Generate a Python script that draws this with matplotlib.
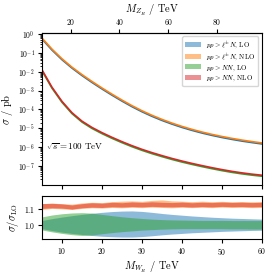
import numpy as np
import matplotlib
matplotlib.use('Agg')
import matplotlib.pyplot as plt
from matplotlib.patches import Patch

plt.rcParams['font.family'] = 'cmr10'
plt.rcParams['mathtext.fontset'] = 'cm'
plt.rcParams['axes.unicode_minus'] = False
plt.rcParams['axes.formatter.use_mathtext'] = True

# W_R mass grid (TeV)
m_wr = [5, 7.5, 10, 12.5, 15, 17.5, 20, 22.5, 25, 27.5, 30, 32.5, 35, 37.5, 40,
        42.5, 45, 47.5, 50, 52.5, 55, 57.5, 60]

# LO cross sections (pb)
lN_lo = [0.550, 0.142, 0.0437, 0.0157, 6.31e-3, 2.72e-3, 1.23e-3, 5.75e-4, 2.79e-4,
         1.41e-4, 7.59e-5, 4.34e-5, 2.63e-5, 1.68e-5, 1.12e-5, 7.81e-6, 5.65e-6,
         4.24e-6, 3.27e-6, 2.60e-6, 2.11e-6, 1.76e-6, 1.49e-6]
NN_lo = [1.148e-2, 1.365e-3, 2.43e-4, 6.10e-5, 2.16e-5, 9.94e-6, 5.28e-6, 2.97e-6,
         1.75e-6, 1.07e-6, 6.84e-7, 4.57e-7, 3.18e-7, 2.25e-7, 1.64e-7, 1.23e-7,
         9.39e-8, 7.29e-8, 5.75e-8, 4.65e-8, 3.87e-8, 3.31e-8, 2.90e-8]

# ratio bands (sigma / sigma_LO)
lN_lo_hi = [1.027, 1.039, 1.049, 1.058, 1.066, 1.073, 1.079, 1.084, 1.087, 1.088, 1.085, 1.079,
            1.072, 1.066, 1.061, 1.056, 1.052, 1.048, 1.045, 1.042, 1.040, 1.038, 1.036]
lN_lo_lo = [0.975, 0.963, 0.953, 0.945, 0.938, 0.932, 0.927, 0.924, 0.922, 0.922, 0.925, 0.930,
            0.936, 0.941, 0.945, 0.949, 0.952, 0.955, 0.958, 0.960, 0.962, 0.964, 0.965]
lN_nlo_hi = [1.133, 1.138, 1.134, 1.131, 1.139, 1.143, 1.141, 1.147, 1.150, 1.152, 1.149, 1.155,
             1.158, 1.152, 1.150, 1.147, 1.150, 1.147, 1.149, 1.146, 1.148, 1.146, 1.147]
lN_nlo_lo = [1.098, 1.104, 1.101, 1.097, 1.104, 1.108, 1.106, 1.110, 1.108, 1.111, 1.109, 1.112,
             1.110, 1.108, 1.111, 1.109, 1.111, 1.109, 1.112, 1.110, 1.111, 1.109, 1.110]
NN_lo_hi = [1.050, 1.062, 1.070, 1.075, 1.077, 1.074, 1.066, 1.058, 1.051, 1.045, 1.040, 1.036,
            1.033, 1.031, 1.030, 1.029, 1.028, 1.028, 1.028, 1.027, 1.027, 1.027, 1.027]
NN_lo_lo = [0.967, 0.955, 0.945, 0.937, 0.932, 0.935, 0.943, 0.950, 0.956, 0.961, 0.966, 0.969,
            0.972, 0.974, 0.975, 0.975, 0.975, 0.975, 0.975, 0.974, 0.974, 0.973, 0.973]
NN_nlo_hi = [1.135, 1.136, 1.133, 1.126, 1.134, 1.140, 1.137, 1.143, 1.140, 1.145, 1.142, 1.146,
             1.143, 1.141, 1.144, 1.140, 1.143, 1.141, 1.144, 1.142, 1.143, 1.141, 1.143]
NN_nlo_lo = [1.104, 1.108, 1.106, 1.100, 1.108, 1.112, 1.110, 1.115, 1.113, 1.116, 1.114, 1.117,
             1.115, 1.114, 1.116, 1.113, 1.116, 1.114, 1.117, 1.115, 1.116, 1.114, 1.116]

labels = [r'$pp > \ell^{\pm}N$, LO', r'$pp > \ell^{\pm}N$, NLO',
          r'$pp > NN$, LO', r'$pp > NN$, NLO']
colors = ['tab:blue', 'tab:orange', 'tab:green', 'tab:red']

mz_over_mw = 1.64

# NLO central values = LO times centre of the NLO band
lN_nlo = np.array(lN_lo) * (np.array(lN_nlo_lo) + np.array(lN_nlo_hi)) / 2
NN_nlo = np.array(NN_lo) * (np.array(NN_nlo_lo) + np.array(NN_nlo_hi)) / 2

fig = plt.figure(figsize=(2.74, 2.74), dpi=100)
ax = fig.add_axes([0.153, 0.325, 0.803, 0.555])
axr = fig.add_axes([0.153, 0.128, 0.803, 0.155], sharex=ax)

ax.plot(m_wr, lN_lo, color=colors[0], lw=1.2)
ax.plot(m_wr, lN_nlo, color=colors[1], lw=1.2)
ax.plot(m_wr, NN_lo, color=colors[2], lw=1.2)
ax.plot(m_wr, NN_nlo, color=colors[3], lw=1.2)
ax.set_yscale('log')
ax.set_ylim(1e-8, 1.15)
ax.set_xlim(5, 60)
ax.set_yticks([10.0**k for k in range(-7, 1)])
ax.set_ylabel(r'$\sigma$ / pb', fontsize=7.5, labelpad=2)
ax.tick_params(labelsize=5.5, labelbottom=False, length=3, pad=2)
ax.tick_params(which='minor', length=1.5)
ax.text(0.02, 0.25, r'$\sqrt{s} = 100$ TeV', transform=ax.transAxes, fontsize=6.5,
        va='center', ha='left')

handles = [Patch(facecolor=c, alpha=0.5, edgecolor='none') for c in colors]
ax.legend(handles, labels, loc='upper right', fontsize=5, handlelength=2.25,
          handleheight=0.7, borderpad=0.45, labelspacing=0.15, handletextpad=0.7,
          borderaxespad=0.5, framealpha=0.8)

top = ax.secondary_xaxis('top', functions=(lambda w: w * mz_over_mw,
                                           lambda z: z / mz_over_mw))
top.set_xticks([20, 40, 60, 80])
top.tick_params(labelsize=5.5, length=3, pad=1)
top.set_xlabel(r'$M_{Z_R}$ / TeV', fontsize=7.5, labelpad=3)

axr.fill_between(m_wr, lN_lo_lo, lN_lo_hi, color=colors[0], alpha=0.5, lw=0)
axr.fill_between(m_wr, lN_nlo_lo, lN_nlo_hi, color=colors[1], alpha=0.5, lw=0)
axr.fill_between(m_wr, NN_lo_lo, NN_lo_hi, color=colors[2], alpha=0.5, lw=0)
axr.fill_between(m_wr, NN_nlo_lo, NN_nlo_hi, color=colors[3], alpha=0.5, lw=0)
axr.set_ylim(0.91, 1.18)
axr.set_yticks([1.0, 1.1])
axr.set_xticks([10, 20, 30, 40, 50, 60])
axr.tick_params(labelsize=5.5, length=3, pad=2)
axr.set_ylabel(r'$\sigma / \sigma_{\rm LO}$', fontsize=7.5, labelpad=2)
axr.set_xlabel(r'$M_{W_R}$ / TeV', fontsize=7.5, labelpad=2)

fig.savefig('out.png', dpi=100)
